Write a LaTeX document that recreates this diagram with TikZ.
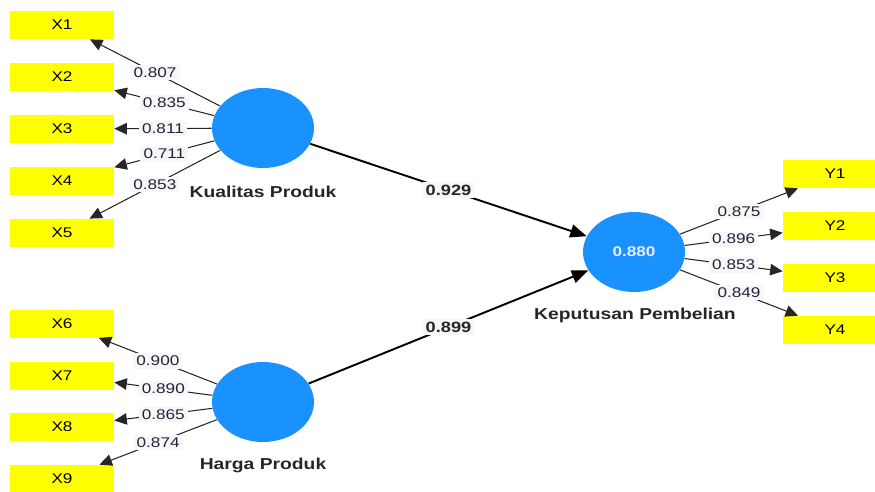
\documentclass[tikz,border=0pt]{standalone}
\usepackage{fontspec}
\setmainfont[FakeStretch=1.22]{Liberation Sans}
\usetikzlibrary{shapes.geometric}
\usetikzlibrary{arrows.meta}
\definecolor{latentblue}{RGB}{25,145,255}
\definecolor{itemyellow}{RGB}{255,255,0}
\definecolor{coefback}{RGB}{247,247,247}
\definecolor{coeftext}{RGB}{35,35,60}

\begin{document}
\begin{tikzpicture}[x=0.02cm, y=0.02cm]
            \tikzstyle{latent} = [ellipse, fill=latentblue, draw=none, minimum width=2.04cm, minimum height=1.6cm, inner sep=0pt, text=white!92!blue, font=\fontsize{8}{9}\selectfont\bfseries]
            \tikzstyle{latent name} = [inner sep=0pt, font=\fontsize{9}{10}\selectfont\bfseries, text=black!85]
            \tikzstyle{item} = [rectangle, fill=itemyellow, draw=none, minimum width=2.08cm, minimum height=0.56cm, inner sep=0pt, font=\fontsize{8}{9}\selectfont]
            \tikzstyle{loading} = [draw=black!85, line width=0.6pt, -{Triangle[length=0.25cm, width=0.23cm]}]
            \tikzstyle{path} = [draw=black, line width=1.1pt, -{Triangle[length=0.33cm, width=0.26cm]}]
            \tikzstyle{coef} = [fill=coefback, inner xsep=1.8pt, inner ysep=1.5pt, text=coeftext, font=\fontsize{8}{9}\selectfont]
            \tikzstyle{path coef} = [coef, text=black!85, font=\fontsize{8.5}{9.5}\selectfont\bfseries]

            \useasboundingbox (0, 0) rectangle (875, -491);

            % latent variables
            \node[latent] (kualitas) at (263, -128) {};
            \node[latent] (harga) at (263, -402) {};
            \node[latent] (keputusan) at (634, -252) {0.880};
            \node[latent name] (kualitas name) at (263, -192) {Kualitas Produk};
            \node[latent name] (harga name) at (263, -465) {Harga Produk};
            \node[latent name] (keputusan name) at (635, -315) {Keputusan Pembelian};

            % indicators
            \node[item] (x1) at (62, -25) {X1};
            \node[item] (x2) at (62, -77) {X2};
            \node[item] (x3) at (62, -129) {X3};
            \node[item] (x4) at (62, -181) {X4};
            \node[item] (x5) at (62, -233) {X5};
            \node[item] (x6) at (62, -323.5) {X6};
            \node[item] (x7) at (62, -375.5) {X7};
            \node[item] (x8) at (62, -427) {X8};
            \node[item] (x9) at (62, -479) {X9};
            \node[item] (y1) at (835, -174) {Y1};
            \node[item] (y2) at (835, -226) {Y2};
            \node[item] (y3) at (835, -278) {Y3};
            \node[item] (y4) at (835, -330) {Y4};

            % outer loadings
            \draw[loading] (kualitas) -- node[coef] (l1) {0.807} (x1);
            \draw[loading] (kualitas) -- node[coef] (l2) {0.835} (x2);
            \draw[loading] (kualitas) -- node[coef] (l3) {0.811} (x3);
            \draw[loading] (kualitas) -- node[coef] (l4) {0.711} (x4);
            \draw[loading] (kualitas) -- node[coef] (l5) {0.853} (x5);
            \draw[loading] (harga) -- node[coef] (l6) {0.900} (x6);
            \draw[loading] (harga) -- node[coef] (l7) {0.890} (x7);
            \draw[loading] (harga) -- node[coef] (l8) {0.865} (x8);
            \draw[loading] (harga) -- node[coef] (l9) {0.874} (x9);
            \draw[loading] (keputusan) -- node[coef] (m1) {0.875} (y1);
            \draw[loading] (keputusan) -- node[coef] (m2) {0.896} (y2);
            \draw[loading] (keputusan) -- node[coef] (m3) {0.853} (y3);
            \draw[loading] (keputusan) -- node[coef] (m4) {0.849} (y4);

            % path coefficients
            \draw[path] (kualitas) -- node[path coef] (p1) {0.929} (keputusan);
            \draw[path] (harga) -- node[path coef] (p2) {0.899} (keputusan);
        \end{tikzpicture}
\end{document}
